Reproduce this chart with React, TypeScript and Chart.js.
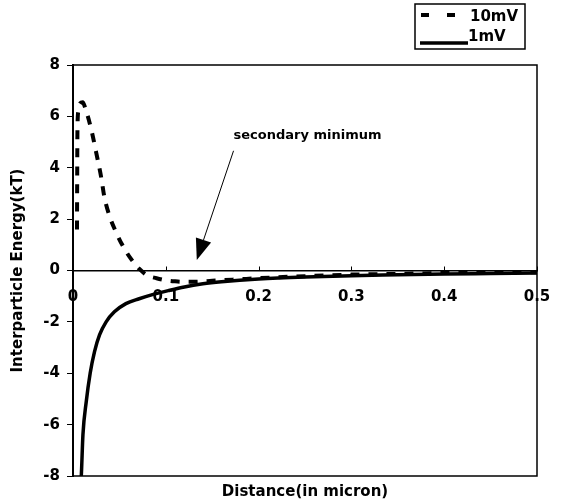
import React, { useEffect, useRef } from 'react';
import { Chart, registerables } from 'chart.js';

Chart.register(...registerables);

// ---- data ----
const seriesNames = ['10mV', '1mV'];

const distance10mV = [
  0.0043, 0.0045, 0.0048, 0.0058, 0.0075, 0.0105, 0.013, 0.0197, 0.025, 0.0304,
  0.0339, 0.0393, 0.0464, 0.0535, 0.0625, 0.0713, 0.08, 0.09, 0.1, 0.11,
  0.12, 0.13, 0.15, 0.18, 0.2, 0.25, 0.3, 0.35, 0.4, 0.45,
  0.5,
];
const energy10mV = [
  1.6, 3.5, 5.5, 6.2, 6.5, 6.55, 6.35, 5.49, 4.59, 3.62,
  2.84, 2.13, 1.49, 0.97, 0.45, 0.07, -0.19, -0.3, -0.38, -0.42,
  -0.44, -0.44, -0.4, -0.34, -0.3, -0.22, -0.16, -0.13, -0.1, -0.08,
  -0.07,
];

const distance1mV = [
  0.0085, 0.009, 0.0107, 0.0143, 0.0185, 0.0232, 0.0286, 0.0357, 0.0446, 0.057,
  0.0713, 0.0856, 0.103, 0.12, 0.14, 0.16, 0.2, 0.25, 0.3, 0.35,
  0.4, 0.45, 0.5,
];
const energy1mV = [
  -8.2, -7.95, -6.4, -5.1, -4.0, -3.16, -2.51, -2.0, -1.61, -1.29,
  -1.1, -0.94, -0.78, -0.64, -0.52, -0.44, -0.33, -0.25, -0.2, -0.17,
  -0.14, -0.12, -0.1,
];

const xTickValues = [0, 0.1, 0.2, 0.3, 0.4, 0.5];
const yTickValues = [-8, -6, -4, -2, 0, 2, 4, 6, 8];

const xTitle = 'Distance(in micron)';
const yTitle = 'Interparticle Energy(kT)';
const annotationText = 'secondary minimum';
const annotationTextAt = { x: 0.173, y: 5.24 };
const arrowTail = { x: 0.173, y: 4.66 };
const arrowTip = { x: 0.1334, y: 0.41 };

const FONT = '"DejaVu Sans", "Liberation Sans", Arial, sans-serif';

const overlayPlugin = {
  id: 'overlay',
  afterDraw(chart: any) {
    const { ctx, chartArea: a, scales } = chart;
    const xs = scales.x;
    const ys = scales.y;
    ctx.save();
    // plot frame
    ctx.strokeStyle = '#000';
    ctx.lineWidth = 1.5;
    ctx.setLineDash([]);
    ctx.strokeRect(a.left, a.top, a.right - a.left, a.bottom - a.top);

    // x tick marks, pointing up from the zero line
    const zeroY = ys.getPixelForValue(0);
    ctx.lineWidth = 1;
    xs.ticks.forEach((t: any) => {
      const px = Math.round(xs.getPixelForValue(t.value)) + 0.5;
      ctx.beginPath();
      ctx.moveTo(px, zeroY);
      ctx.lineTo(px, zeroY - 4);
      ctx.stroke();
    });

    // annotation text
    ctx.fillStyle = '#000';
    ctx.font = `bold 13px ${FONT}`;
    ctx.textAlign = 'left';
    ctx.textBaseline = 'middle';
    ctx.fillText(annotationText, xs.getPixelForValue(annotationTextAt.x), ys.getPixelForValue(annotationTextAt.y));

    // arrow
    const tx = xs.getPixelForValue(arrowTail.x);
    const ty = ys.getPixelForValue(arrowTail.y);
    const hx = xs.getPixelForValue(arrowTip.x);
    const hy = ys.getPixelForValue(arrowTip.y);
    const ang = Math.atan2(hy - ty, hx - tx);
    const headLen = 21;
    const headHalf = 8;
    const bx = hx - headLen * Math.cos(ang);
    const by = hy - headLen * Math.sin(ang);
    ctx.lineWidth = 1;
    ctx.beginPath();
    ctx.moveTo(tx, ty);
    ctx.lineTo(bx, by);
    ctx.stroke();
    ctx.beginPath();
    ctx.moveTo(hx, hy);
    ctx.lineTo(bx + headHalf * Math.sin(ang), by - headHalf * Math.cos(ang));
    ctx.lineTo(bx - headHalf * Math.sin(ang), by + headHalf * Math.cos(ang));
    ctx.closePath();
    ctx.fill();

    // legend
    const lx = 415, ly = 4, lw = 110, lh = 45;
    ctx.lineWidth = 1.5;
    ctx.strokeRect(lx, ly, lw, lh);
    ctx.lineWidth = 4;
    ctx.lineCap = 'butt';
    ctx.setLineDash([8, 18]);
    ctx.beginPath();
    ctx.moveTo(421, 15);
    ctx.lineTo(456, 15);
    ctx.stroke();
    ctx.setLineDash([]);
    ctx.lineWidth = 3.5;
    ctx.beginPath();
    ctx.moveTo(420, 43);
    ctx.lineTo(468, 43);
    ctx.stroke();
    ctx.font = `bold 15px ${FONT}`;
    ctx.textBaseline = 'middle';
    ctx.fillText(seriesNames[0], 470, 17);
    ctx.fillText(seriesNames[1], 468, 37);
    ctx.restore();
  },
};

export default function App() {
  const ref = useRef<HTMLCanvasElement | null>(null);
  useEffect(() => {
    if (!ref.current) return;
    const tickFont = { family: FONT, size: 15, weight: 'bold' as const };
    const chart = new Chart(ref.current, {
      type: 'line',
      data: {
        datasets: [
          {
            label: seriesNames[0],
            data: distance10mV.map((x, i) => ({ x, y: energy10mV[i] })),
            borderColor: '#000',
            backgroundColor: '#000',
            borderWidth: 4,
            borderDash: [9, 9],
            pointRadius: 0,
            fill: false,
            cubicInterpolationMode: 'monotone',
            xAxisID: 'x',
            yAxisID: 'y',
          },
          {
            label: seriesNames[1],
            data: distance1mV.map((x, i) => ({ x, y: energy1mV[i] })),
            borderColor: '#000',
            backgroundColor: '#000',
            borderWidth: 3.5,
            pointRadius: 0,
            fill: false,
            cubicInterpolationMode: 'monotone',
            xAxisID: 'x',
            yAxisID: 'y',
          },
        ],
      },
      options: {
        animation: false,
        responsive: false,
        maintainAspectRatio: false,
        layout: { padding: { top: 65, right: 29, left: 0, bottom: 0 } },
        plugins: { legend: { display: false }, tooltip: { enabled: false } },
        scales: {
          x: {
            type: 'linear',
            axis: 'x',
            position: { y: 0 } as any,
            min: 0,
            max: 0.5,
            afterBuildTicks: (s: any) => {
              s.ticks = xTickValues.map((value) => ({ value }));
            },
            afterFit: (s: any) => {
              s.paddingLeft = 0;
              s.paddingRight = 0;
            },
            ticks: {
              color: '#000',
              font: tickFont,
              padding: 18,
              maxRotation: 0,
              autoSkip: false,
              callback: (v: any) => (Number(v) === 0 ? '0' : Number(v).toFixed(1)),
            },
            grid: { drawOnChartArea: false, drawTicks: false, tickLength: 0, color: '#000', lineWidth: 1 },
            border: { display: true, color: '#000', width: 1.5 },
          },
          xTitle: {
            type: 'linear',
            axis: 'x',
            position: 'bottom',
            min: 0,
            max: 0.5,
            ticks: { display: false },
            grid: { display: false, drawTicks: false },
            border: { display: false },
            title: {
              display: true,
              text: xTitle,
              color: '#000',
              font: tickFont,
              padding: { top: 0, bottom: 1 },
            },
            afterFit: (s: any) => {
              s.height = 26;
              s.paddingLeft = 0;
              s.paddingRight = 0;
            },
          },
          y: {
            type: 'linear',
            position: 'left',
            min: -8,
            max: 8,
            afterBuildTicks: (s: any) => {
              s.ticks = yTickValues.map((value) => ({ value }));
            },
            ticks: { color: '#000', font: tickFont, padding: 7, autoSkip: false },
            grid: { drawOnChartArea: false, drawTicks: true, tickLength: 6, color: '#000', lineWidth: 1 },
            border: { display: true, color: '#000', width: 2 },
            title: {
              display: true,
              text: yTitle,
              color: '#000',
              font: tickFont,
              padding: { top: 9, bottom: 0 },
            },
            afterFit: (s: any) => {
              s.width = 73;
            },
          },
        },
      },
      plugins: [overlayPlugin],
    } as any);
    return () => chart.destroy();
  }, []);
  return (
    <div style={{ position: 'fixed', left: 0, top: 0, width: 566, height: 502, background: '#fff' }}>
      <canvas ref={ref} width={566} height={502} style={{ display: 'block' }} />
    </div>
  );
}
